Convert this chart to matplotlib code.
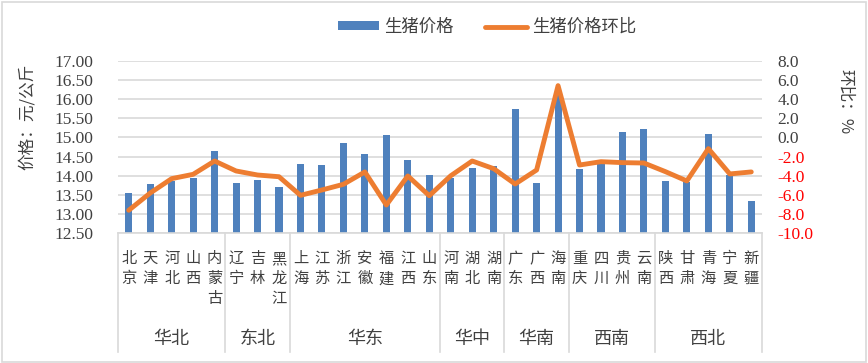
import numpy as np
import matplotlib
matplotlib.use("Agg")
import matplotlib.pyplot as plt
from matplotlib.patches import Rectangle
from matplotlib.transforms import blended_transform_factory

plt.rcParams['font.family'] = ['Noto Sans CJK SC', 'DejaVu Sans']

# ---- data -------------------------------------------------------
provinces = ["北京", "天津", "河北", "山西", "内蒙古",
             "辽宁", "吉林", "黑龙江",
             "上海", "江苏", "浙江", "安徽", "福建", "江西", "山东",
             "河南", "湖北", "湖南",
             "广东", "广西", "海南",
             "重庆", "四川", "贵州", "云南",
             "陕西", "甘肃", "青海", "宁夏", "新疆"]
regions       = ["华北", "东北", "华东", "华中", "华南", "西南", "西北"]
region_sizes  = [5, 3, 7, 3, 3, 4, 5]

price = [13.55, 13.79, 13.87, 13.94, 14.65,
         13.81, 13.89, 13.71,
         14.31, 14.28, 14.86, 14.57, 15.06, 14.41, 14.02,
         13.94, 14.20, 14.26,
         15.74, 13.81, 16.12,
         14.18, 14.31, 15.14, 15.22,
         13.86, 13.85, 15.09, 14.02, 13.34]
mom = [-7.6, -5.8, -4.3, -3.85, -2.46,
       -3.5, -3.92, -4.1,
       -6.04, -5.48, -4.89, -3.6, -7.05, -4.02, -6.08,
       -4.0, -2.46, -3.26,
       -4.86, -3.4, 5.4,
       -2.88, -2.53, -2.63, -2.67,
       -3.57, -4.54, -1.17, -3.81, -3.6]

left_ticks  = np.arange(12.5, 17.01, 0.5)
right_ticks = np.arange(-10, 8.01, 2)

blue   = "#4F81BD"
orange = "#ED7D31"
grid_c = "#D9D9D9"
text_c = "#404040"
num_font = ['Liberation Serif', 'DejaVu Serif']

# ---- figure -----------------------------------------------------
W, H = 868, 363
fig = plt.figure(figsize=(W / 100, H / 100), dpi=100)
ax  = fig.add_axes([118 / W, 1 - 233.3 / H, (762 - 118) / W, (233.3 - 60.7) / H])
x   = np.arange(len(provinces))

bars = ax.bar(x, price, width=0.33, color=blue, zorder=2, label="生猪价格")
ax.set_ylim(12.5, 17.0)
ax.set_xlim(-0.5, len(provinces) - 0.5)
ax.set_yticks(left_ticks)
ax.set_yticklabels(["%.2f" % v for v in left_ticks], family=num_font, fontsize=12.5)
ax.yaxis.grid(True, color=grid_c, linewidth=1.2)
ax.set_axisbelow(True)
ax.tick_params(axis='y', length=0, pad=18, colors=text_c)
for s in ["top", "left", "right"]:
    ax.spines[s].set_visible(False)
ax.spines["bottom"].set_color(grid_c)
ax.spines["bottom"].set_linewidth(1.2)

ax.set_xticks(x)
ax.set_xticklabels(["\n".join(p) for p in provinces], fontsize=11,
                   linespacing=1.25, va="top", color=text_c)
ax.tick_params(axis='x', length=0, pad=12)

ax2 = ax.twinx()
line, = ax2.plot(x, mom, color=orange, linewidth=3.5, solid_joinstyle="round",
                 solid_capstyle="round", label="生猪价格环比", zorder=3)
ax2.set_ylim(-10, 8)
ax2.set_yticks(right_ticks)
ax2.set_yticklabels(["%.1f" % v for v in right_ticks], family=num_font, fontsize=12.5)
for t, v in zip(ax2.get_yticklabels(), right_ticks):
    t.set_color("red" if v < 0 else text_c)
ax2.tick_params(axis='y', length=0, pad=11)
for s in ax2.spines.values():
    s.set_visible(False)

# ---- region grouping below the axis -----------------------------
trans = blended_transform_factory(ax.transData, ax.transAxes)
edges = np.concatenate([[0], np.cumsum(region_sizes)]) - 0.5
for e in edges:
    ax.plot([e, e], [0, -0.686], transform=trans, color=grid_c,
            linewidth=1.2, clip_on=False)
for name, a, b in zip(regions, edges[:-1], edges[1:]):
    ax.text((a + b) / 2, -0.61, name, transform=trans, ha="center",
            va="center", fontsize=13, color=text_c)

# ---- axis titles -------------------------------------------------
fig.text(27 / W, 1 - 117 / H, "价格：元/公斤", rotation=90, ha="center",
         va="center", fontsize=12, color=text_c)
fig.text(845 / W, 1 - 102 / H, "环比：%", rotation=-90, ha="center",
         va="center", fontsize=12, color=text_c)

# ---- legend ------------------------------------------------------
fig.legend([bars, line], ["生猪价格", "生猪价格环比"], loc="center",
           bbox_to_anchor=(0.561, 1 - 27 / H), ncol=2, frameon=False,
           fontsize=12.5, handlelength=2.4, handleheight=0.4,
           columnspacing=1.8, handletextpad=0.3, labelcolor=text_c)

# outer border
fig.patches.append(Rectangle((2 / W, 1 / H), 1 - 4 / W, 1 - 3 / H,
                             transform=fig.transFigure, fill=False,
                             edgecolor=grid_c, linewidth=1.2))

plt.savefig("out.png", dpi=100)
